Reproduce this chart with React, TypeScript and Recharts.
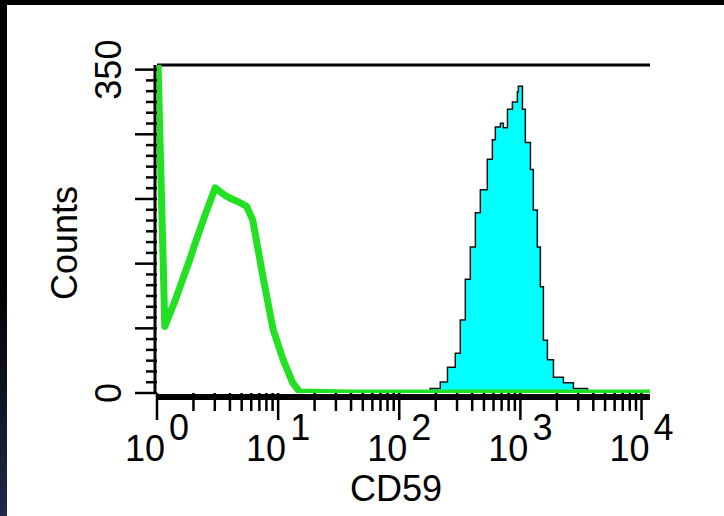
import { Area, ComposedChart, Line, ReferenceLine, XAxis, YAxis } from "recharts";

// green (isotype / unstained) histogram, intensity vs counts
const greenIntensity = [1, 1.16, 1.41, 1.86, 2.04, 2.5, 3.02, 3.31, 3.63, 3.98, 4.68, 5.5, 6.17, 7.59, 9.12, 11, 13.2, 15.1, 40, 200, 2000, 11750];
const greenCounts = [400, 72, 100, 144, 160, 193, 222, 218, 214, 211, 207, 202, 187, 122, 68, 36, 11, 1, 0, 0, 0, 0];

// cyan (CD59 stained) histogram
const cyanIntensity = [150, 180, 218, 250, 290, 319, 351, 386, 425, 467, 533, 587, 621, 684, 724, 782, 859, 944, 962, 1040, 1099, 1211, 1279, 1380, 1462, 1549, 1671, 1875, 2265, 2742, 3581, 4000];
const cyanCounts = [0, 5, 12, 28, 43, 79, 123, 158, 195, 220, 253, 274, 288, 292, 287, 307, 315, 326, 332, 307, 271, 242, 198, 158, 115, 57, 36, 17, 11, 5, 1, 0];

const majorTicks = [1, 10, 100, 1000, 10000];
const minorSteps = [2, 3, 4, 5, 6, 7, 8, 9];
const yLabeled = [0, 350];
const yMax = 355;

const green = greenIntensity.map((x, i) => ({ x, y: greenCounts[i] }));
const cyan = cyanIntensity.map((x, i) => ({ x, y: cyanCounts[i] }));

const xTicks = [
  ...majorTicks,
  ...majorTicks.slice(0, 4).flatMap((d) => minorSteps.map((m) => m * d)),
].sort((a, b) => a - b);

const yStep = 350 / 30;
const yTicks = Array.from({ length: 31 }, (_, i) => i * yStep);

const FONT = "'Liberation Sans', Arial, sans-serif";

const XTick = (props: any) => {
  const { x, y, payload } = props;
  const exp = Math.log10(payload.value);
  const major = Math.abs(exp - Math.round(exp)) < 1e-6;
  return (
    <g>
      <line x1={x} y1={y} x2={x} y2={y + (major ? 27 : 18)} stroke="#000" strokeWidth={2.5} />
      {major && (
        <text x={x} y={y + 68} textAnchor="middle" fontSize={36} fontFamily={FONT} fill="#000">
          10
          <tspan dx={4} dy={-21}>
            {Math.round(exp)}
          </tspan>
        </text>
      )}
    </g>
  );
};

const YTick = (props: any) => {
  const { x, y, payload } = props;
  const v = payload.value;
  const long = Math.round(v / yStep) % 6 === 0;
  const labeled = yLabeled.some((l) => Math.abs(l - v) < 0.01);
  return (
    <g>
      <line x1={x - (long ? 22 : 11)} y1={y} x2={x} y2={y} stroke="#000" strokeWidth={2.5} />
      {labeled && (
        <text
          transform={`translate(${x - 36},${y}) rotate(-90)`}
          textAnchor="middle"
          fontSize={36}
          fontFamily={FONT}
          fill="#000"
        >
          {Math.round(v)}
        </text>
      )}
    </g>
  );
};

export default function App() {
  return (
    <div
      style={{
        position: "absolute",
        top: 0,
        left: 0,
        width: 724,
        height: 516,
        background: "linear-gradient(#000 0%, #000 55%, #1e2c48 100%)",
        overflow: "hidden",
      }}
    >
      <div style={{ position: "absolute", left: 7, top: 5, right: 0, bottom: 0, background: "#fff" }} />
      <div style={{ position: "absolute", left: 0, top: 0 }}>
        <ComposedChart width={724} height={516} margin={{ top: 65, right: 74, bottom: 63, left: 0 }}>
          <XAxis
            dataKey="x"
            type="number"
            scale="log"
            domain={[1, 11750]}
            allowDataOverflow
            ticks={xTicks}
            interval={0}
            tick={<XTick />}
            tickLine={false}
            tickSize={0}
            tickMargin={0}
            height={60}
            axisLine={{ stroke: "#000", strokeWidth: 6, transform: "translate(0,4)" }}
            label={{
              content: (p: any) => (
                <text
                  x={p.viewBox.x + 239}
                  y={p.viewBox.y + 108}
                  textAnchor="middle"
                  fontSize={36}
                  fontFamily={FONT}
                  fill="#000"
                >
                  CD59
                </text>
              ),
            }}
          />
          <YAxis
            type="number"
            domain={[0, yMax]}
            allowDataOverflow
            ticks={yTicks}
            interval={0}
            tick={<YTick />}
            tickLine={false}
            tickSize={0}
            tickMargin={0}
            width={157}
            axisLine={{ stroke: "#000", strokeWidth: 3, transform: "translate(-2,0)" }}
            label={{
              content: (p: any) => (
                <text
                  transform={`translate(${p.viewBox.x + 77},${p.viewBox.y + 178}) rotate(-90)`}
                  textAnchor="middle"
                  fontSize={36}
                  fontFamily={FONT}
                  fill="#000"
                >
                  Counts
                </text>
              ),
            }}
          />
          <ReferenceLine y={yMax} stroke="#000" strokeWidth={3} />
          <Area
            data={cyan}
            dataKey="y"
            type="stepAfter"
            fill="#00ffff"
            fillOpacity={1}
            stroke="#111"
            strokeWidth={1.5}
            isAnimationActive={false}
          />
          <Line
            data={green}
            dataKey="y"
            type="linear"
            stroke="#22e022"
            strokeWidth={7}
            strokeLinejoin="round"
            dot={false}
            isAnimationActive={false}
          />
        </ComposedChart>
      </div>
    </div>
  );
}
